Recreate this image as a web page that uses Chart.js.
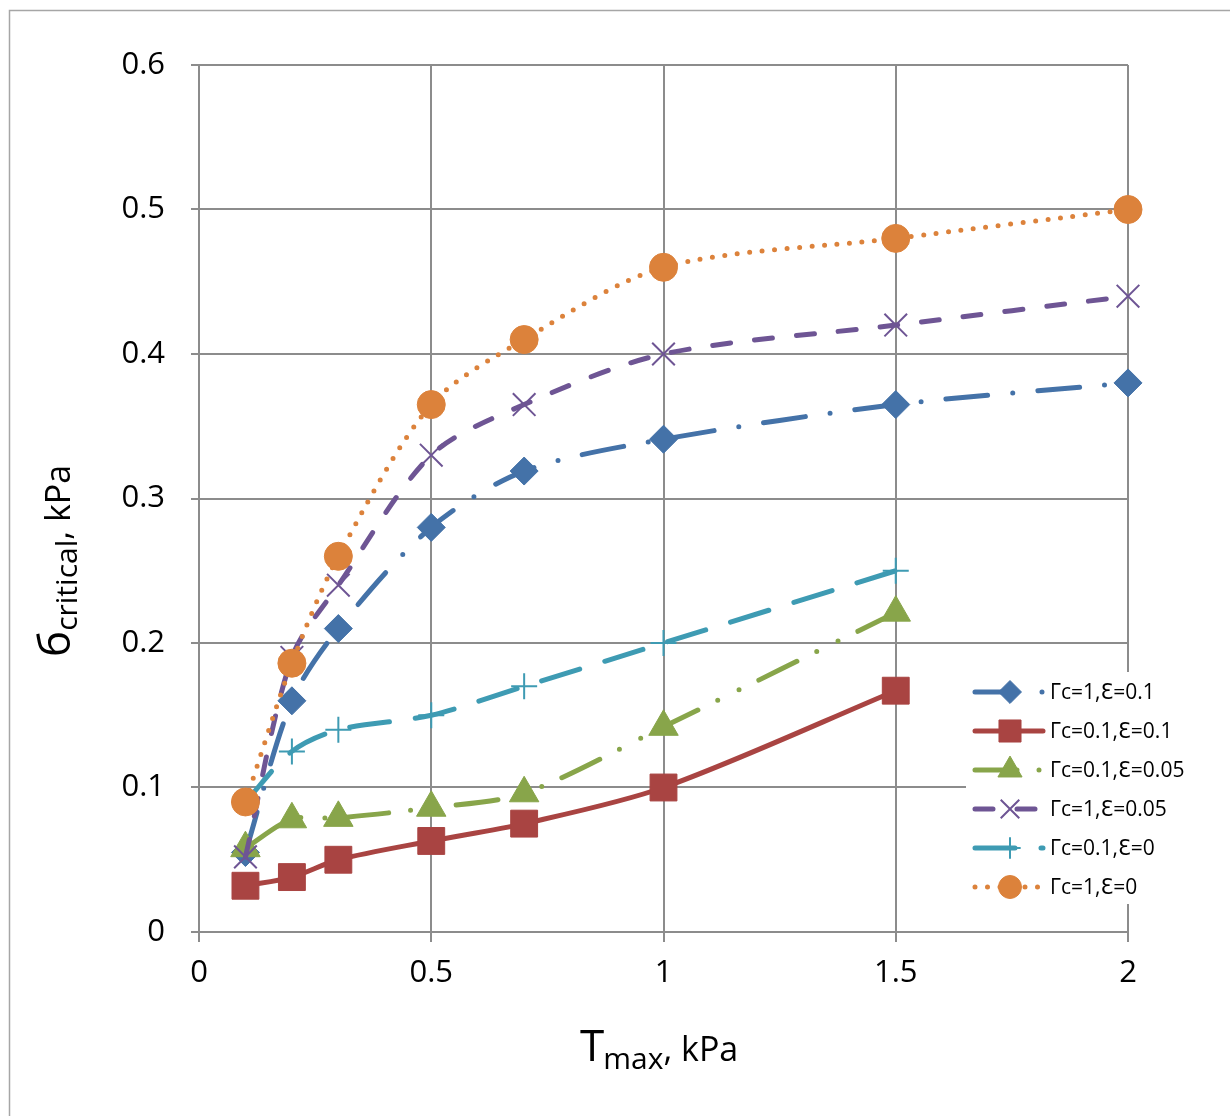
<!DOCTYPE html>
<html>
<head>
<meta charset="utf-8">
<script src="https://cdn.jsdelivr.net/npm/chart.js@4/dist/chart.umd.min.js"></script>
<style>
html,body{margin:0;padding:0;background:#fff;}
#wrap{width:1230px;height:1116px;position:relative;}
</style>
</head>
<body>
<div id="wrap"><canvas id="c" width="1230" height="1116"></canvas></div>
<script>
// ---- data ----
const xTicks = [0, 0.5, 1, 1.5, 2];
const yTicks = [0, 0.1, 0.2, 0.3, 0.4, 0.5, 0.6];
const xAll = [0.1, 0.2, 0.3, 0.5, 0.7, 1, 1.5, 2];
const xShort = [0.1, 0.2, 0.3, 0.5, 0.7, 1, 1.5];
const seriesNames = ["Γc=1,Ɛ=0.1", "Γc=0.1,Ɛ=0.1", "Γc=0.1,Ɛ=0.05", "Γc=1,Ɛ=0.05", "Γc=0.1,Ɛ=0", "Γc=1,Ɛ=0"];
const gc1e01   = [0.055, 0.16, 0.21, 0.28, 0.319, 0.341, 0.365, 0.38];
const gc01e01  = [0.032, 0.038, 0.05, 0.063, 0.075, 0.1, 0.167];
const gc01e005 = [0.058, 0.078, 0.079, 0.086, 0.096, 0.142, 0.221];
const gc1e005  = [0.052, 0.19, 0.24, 0.33, 0.365, 0.4, 0.42, 0.44];
const gc01e0   = [0.09, 0.125, 0.14, 0.15, 0.17, 0.2, 0.25];
const gc1e0    = [0.09, 0.186, 0.26, 0.365, 0.41, 0.46, 0.48, 0.5];

function pts(xs, ys){ return ys.map((y,i)=>({x:xs[i], y:y})); }

const styles = [
  {color:'#4472a8', dash:[42,25,0,25], pointStyle:'rectRot', r:14, pbw:1},
  {color:'#a94442', dash:[], pointStyle:'rect', r:19, pbw:1},
  {color:'#88a54a', dash:[42,22,0,24,0,22], pointStyle:'triangle', r:17, pbw:1},
  {color:'#6e5594', dash:[18,24], pointStyle:'crossRot', r:16, pbw:2},
  {color:'#3e9bb3', dash:[40,26], pointStyle:'cross', r:13, pbw:2},
  {color:'#dc823b', dash:[0,12.5], pointStyle:'circle', r:14, pbw:1}
];
const seriesData = [pts(xAll,gc1e01), pts(xShort,gc01e01), pts(xShort,gc01e005), pts(xAll,gc1e005), pts(xShort,gc01e0), pts(xAll,gc1e0)];

const datasets = seriesData.map((d,i)=>{
  const s = styles[i];
  return {
    label: seriesNames[i],
    data: d,
    borderColor: s.color,
    backgroundColor: s.color,
    borderWidth: 5,
    borderDash: s.dash,
    borderCapStyle: 'round',
    tension: 0.3,
    pointStyle: s.pointStyle,
    pointRadius: s.r,
    pointBorderWidth: s.pbw,
    pointBackgroundColor: s.color,
    pointBorderColor: s.color,
    order: 5 - i,
    clip: false
  };
});

const FONT = "'Open Sans', 'DejaVu Sans', sans-serif";

const decor = {
  id:'decor',
  beforeDraw(chart){
    const ctx = chart.ctx;
    ctx.save();
    ctx.fillStyle = '#fff';
    ctx.fillRect(0,0,chart.width,chart.height);
    ctx.strokeStyle = '#a6a6a6';
    ctx.lineWidth = 1.5;
    ctx.beginPath();
    ctx.moveTo(9.5, chart.height);
    ctx.lineTo(9.5, 10.5);
    ctx.lineTo(chart.width, 10.5);
    ctx.stroke();
    ctx.restore();
  },
  afterDraw(chart){
    const ctx = chart.ctx;
    ctx.save();
    // X title
    ctx.fillStyle = '#000';
    ctx.textBaseline = 'alphabetic';
    ctx.textAlign = 'left';
    let x = 580, base = 1061;
    ctx.font = "44px " + FONT;
    ctx.fillText('T', x, base);
    x += ctx.measureText('T').width - 1;
    ctx.font = "30px " + FONT;
    ctx.fillText('max', x, base + 8);
    x += ctx.measureText('max').width;
    ctx.font = "34px " + FONT;
    ctx.fillText(', kPa', x, base);

    // Y title (rotated)
    ctx.translate(70, 657);
    ctx.rotate(-Math.PI/2);
    let y0 = 0;
    ctx.font = "44px " + FONT;
    ctx.fillText('б', y0, 0);
    y0 += ctx.measureText('б').width;
    ctx.font = "30px " + FONT;
    ctx.fillText('critical', y0, 7);
    y0 += ctx.measureText('critical').width;
    ctx.font = "34px " + FONT;
    ctx.fillText(', kPa', y0, 0);
    ctx.restore();

    // Legend
    ctx.save();
    ctx.fillStyle = '#fff';
    ctx.fillRect(966, 672, 230, 232);
    chart.data.datasets.forEach((ds,i)=>{
      const yy = 692 + i*39;
      ctx.save();
      ctx.strokeStyle = ds.borderColor;
      ctx.lineWidth = 5;
      ctx.lineCap = 'round';
      ctx.setLineDash(ds.borderDash);
      ctx.beginPath();
      ctx.moveTo(975, yy);
      ctx.lineTo(1043, yy);
      ctx.stroke();
      ctx.restore();
      ctx.save();
      ctx.fillStyle = ds.backgroundColor;
      ctx.strokeStyle = ds.borderColor;
      ctx.lineWidth = ds.pointBorderWidth;
      Chart.helpers.drawPoint(ctx, {pointStyle: ds.pointStyle, radius: ds.pointRadius*0.82, borderWidth: ds.pointBorderWidth}, 1010, yy);
      ctx.restore();
      ctx.fillStyle = '#000';
      ctx.font = "21px " + FONT;
      ctx.textAlign = 'left';
      ctx.textBaseline = 'middle';
      ctx.fillText(ds.label, 1050, yy + 1);
    });
    ctx.restore();
  }
};

new Chart(document.getElementById('c'), {
  type: 'line',
  data: { datasets },
  options: {
    responsive: false,
    animation: false,
    devicePixelRatio: 1,
    layout: { padding: { left: 0, right: 102, top: 65, bottom: 0 } },
    plugins: { legend: { display: false }, tooltip: { enabled: false } },
    scales: {
      x: {
        type: 'linear', min: 0, max: 2,
        afterFit(s){ s.height = 184; },
        afterBuildTicks(s){ s.ticks = xTicks.map(v=>({value:v})); },
        ticks: { font: { family: FONT, size: 31 }, color: '#000', padding: 13,
                 callback: v => String(v) },
        grid: { color: '#8c8c8c', lineWidth: 2, tickLength: 10, drawTicks: true },
        border: { color: '#8c8c8c', width: 2 }
      },
      y: {
        type: 'linear', min: 0, max: 0.6,
        afterFit(s){ s.width = 199; },
        afterBuildTicks(s){ s.ticks = yTicks.map(v=>({value:v})); },
        ticks: { font: { family: FONT, size: 31 }, color: '#000', padding: 26,
                 callback: v => String(v) },
        grid: { color: '#8c8c8c', lineWidth: 2, tickLength: 8, drawTicks: true },
        border: { color: '#8c8c8c', width: 2 }
      }
    }
  },
  plugins: [decor]
});
</script>
</body>
</html>
